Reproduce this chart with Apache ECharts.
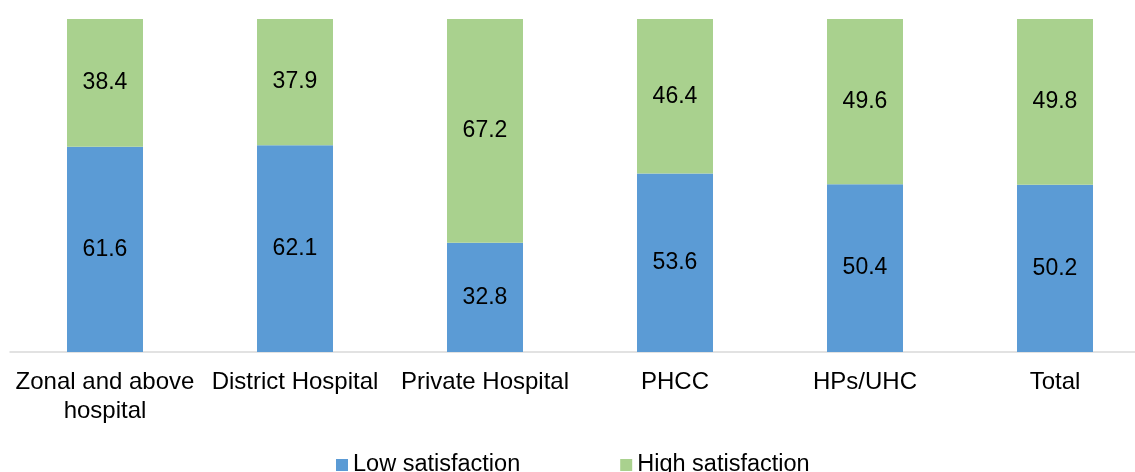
<!DOCTYPE html>
<html>
<head>
<meta charset="utf-8">
<script src="https://cdn.jsdelivr.net/npm/echarts@6/dist/echarts.min.js"></script>
<style>
  html, body { margin: 0; padding: 0; background: #ffffff; overflow: hidden; }
  #chart { width: 1150px; height: 472px; }
</style>
</head>
<body>
<div id="chart"></div>
<script>
// Satisfaction level by type of health facility (%)
const categories = ['Zonal and above\nhospital', 'District Hospital', 'Private Hospital', 'PHCC', 'HPs/UHC', 'Total'];
const lowSatisfaction = [61.6, 62.1, 32.8, 53.6, 50.4, 50.2];
const highSatisfaction = [38.4, 37.9, 67.2, 46.4, 49.6, 49.8];

const FONT = '"Liberation Sans", Arial, sans-serif';

const chart = echarts.init(document.getElementById('chart'));

const labelStyle = {
  show: true,
  position: 'inside',
  color: '#000000',
  fontFamily: FONT,
  fontSize: 23,
  formatter: (p) => p.value.toFixed(1)
};

chart.setOption({
  animation: false,
  backgroundColor: '#ffffff',
  grid: { left: 10, top: 19, right: 0, bottom: 120, containLabel: false },
  xAxis: {
    type: 'category',
    data: categories,
    axisLine: { show: true, lineStyle: { color: '#D9D9D9', width: 1.5 } },
    axisTick: { show: false },
    axisLabel: {
      color: '#000000',
      fontFamily: FONT,
      fontSize: 24,
      lineHeight: 29,
      margin: 16,
      interval: 0
    }
  },
  yAxis: {
    type: 'value',
    min: 0,
    max: 100,
    show: false,
    splitLine: { show: false }
  },
  legend: {
    data: ['Low satisfaction', 'High satisfaction'],
    left: 331,
    top: 448,
    itemWidth: 12,
    itemHeight: 12,
    itemGap: 100,
    icon: 'rect',
    textStyle: { color: '#000000', fontFamily: FONT, fontSize: 23.5 }
  },
  series: [
    {
      name: 'Low satisfaction',
      type: 'bar',
      stack: 'share',
      barWidth: 76,
      data: lowSatisfaction,
      itemStyle: { color: '#5B9BD5' },
      label: labelStyle
    },
    {
      name: 'High satisfaction',
      type: 'bar',
      stack: 'share',
      barWidth: 76,
      data: highSatisfaction,
      itemStyle: { color: '#A9D18E' },
      label: labelStyle
    }
  ]
});
</script>
</body>
</html>
